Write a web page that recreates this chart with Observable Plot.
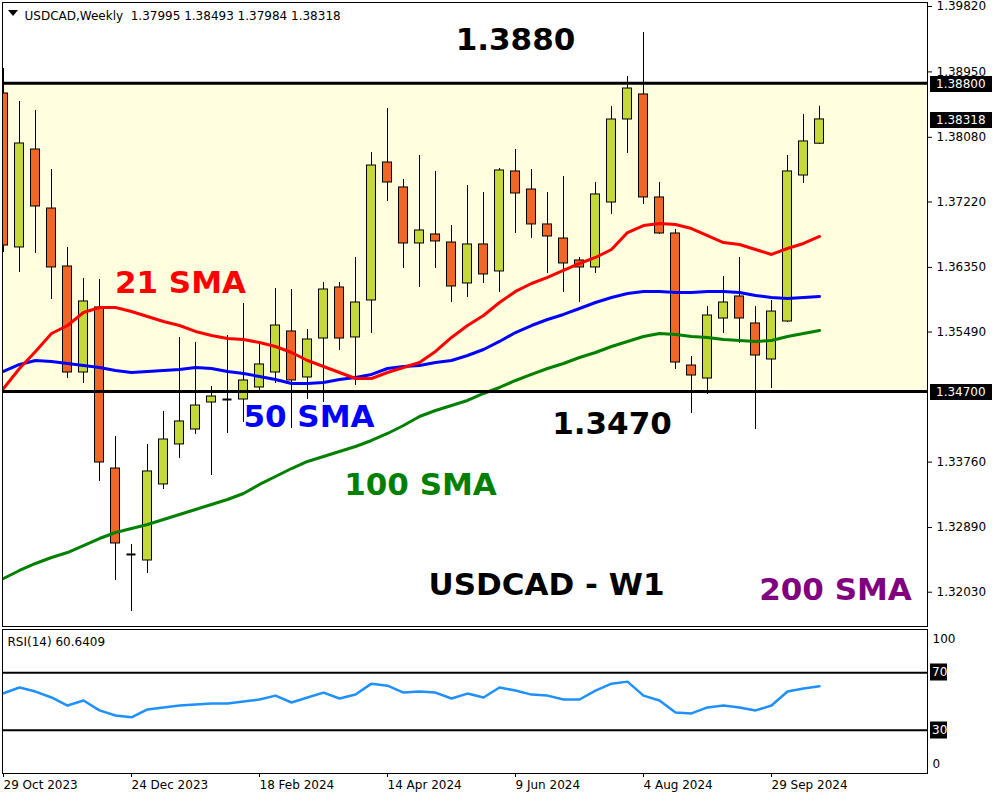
<!DOCTYPE html>
<html><head><meta charset="utf-8">
<script src="https://cdn.jsdelivr.net/npm/d3@7"></script>
<script src="https://cdn.jsdelivr.net/npm/@observablehq/plot@0.6"></script>
<style>
body{margin:0;background:#fff;}
#chart svg{display:block;}
</style></head><body><div id="chart"></div>
<script>
// ---- data ----
const dateLabels = ["29 Oct 2023","24 Dec 2023","18 Feb 2024","14 Apr 2024","9 Jun 2024","4 Aug 2024","29 Sep 2024"];
const dateTickIdx = [0,8,16,24,32,40,48];
const open = [1.38663,1.36615,1.37918,1.37133,1.36362,1.34952,1.35817,1.33675,1.32532,1.32452,
  1.33463,1.33995,1.34194,1.34553,1.34593,1.34593,1.34753,1.34952,1.35498,1.34886,
  1.35404,1.36083,1.35418,1.35910,1.37745,1.37413,1.36668,1.36788,1.36681,1.36136,
  1.36655,1.36296,1.37626,1.37386,1.36921,1.36734,1.36442,1.36349,1.37213,1.38317,
  1.38650,1.37280,1.36801,1.35045,1.34872,1.35670,1.35963,1.35604,1.35125,1.35630,
  1.37572,1.37995];
const high = [1.38995,1.38557,1.38437,1.37652,1.36615,1.36202,1.36189,1.34101,1.32665,1.33995,
  1.34434,1.35418,1.35351,1.34766,1.35444,1.35870,1.35338,1.36069,1.36056,1.35524,
  1.36149,1.36149,1.36482,1.37878,1.38463,1.37519,1.37838,1.37626,1.36907,1.37439,
  1.37346,1.37665,1.37918,1.37652,1.37346,1.37559,1.36482,1.37479,1.38490,1.38889,
  1.39474,1.37479,1.36854,1.35165,1.35830,1.36229,1.36482,1.35830,1.35910,1.37838,
  1.38384,1.38493];
const low = [1.36548,1.36282,1.36535,1.35923,1.34872,1.34806,1.33503,1.32186,1.31774,1.32279,
  1.33396,1.33808,1.34128,1.33582,1.34141,1.34287,1.34686,1.34806,1.34207,1.34593,
  1.34553,1.35245,1.34779,1.35471,1.37227,1.36335,1.36083,1.36335,1.35883,1.35950,
  1.36136,1.36016,1.36801,1.36734,1.36269,1.36016,1.35883,1.36269,1.37054,1.37865,
  1.37187,1.36788,1.34992,1.34407,1.34660,1.35471,1.35338,1.34194,1.34739,1.35617,
  1.37466,1.37984];
const close = [1.36641,1.37998,1.37160,1.36349,1.34952,1.35897,1.33755,1.32678,1.32532,1.33636,
  1.34061,1.34301,1.34513,1.34633,1.34593,1.34846,1.35059,1.35577,1.34846,1.35391,
  1.36056,1.35404,1.35883,1.37705,1.37479,1.36668,1.36841,1.36695,1.36096,1.36655,
  1.36256,1.37639,1.37333,1.36921,1.36761,1.36402,1.36349,1.37320,1.38317,1.38729,
  1.37280,1.36801,1.35085,1.34912,1.35710,1.35883,1.35670,1.35178,1.35763,1.37626,
  1.38025,1.38318];
const sma21 = [1.34739,1.35005,1.35232,1.35471,1.35577,1.35750,1.35817,1.35817,1.35763,1.35697,
  1.35630,1.35577,1.35498,1.35444,1.35404,1.35391,1.35351,1.35298,1.35218,1.35112,
  1.35032,1.34952,1.34872,1.34872,1.34952,1.35019,1.35085,1.35232,1.35418,1.35577,
  1.35710,1.35883,1.36030,1.36136,1.36216,1.36309,1.36402,1.36482,1.36588,1.36814,
  1.36907,1.36934,1.36921,1.36867,1.36774,1.36681,1.36655,1.36588,1.36522,1.36601,
  1.36668,1.36761];
const sma50 = [1.34966,1.35059,1.35112,1.35099,1.35072,1.35045,1.35019,1.34979,1.34952,1.34966,
  1.34979,1.34992,1.35019,1.35005,1.34966,1.34939,1.34899,1.34859,1.34806,1.34806,
  1.34819,1.34859,1.34886,1.34926,1.35005,1.35032,1.35045,1.35085,1.35112,1.35178,
  1.35258,1.35365,1.35484,1.35577,1.35657,1.35724,1.35803,1.35883,1.35950,1.36003,
  1.36030,1.36030,1.36016,1.36016,1.36030,1.36030,1.36016,1.35976,1.35950,1.35936,
  1.35950,1.35963];
const sma100 = [1.32212,1.32319,1.32412,1.32492,1.32558,1.32651,1.32744,1.32824,1.32877,1.32931,
  1.32997,1.33064,1.33130,1.33197,1.33263,1.33343,1.33463,1.33569,1.33675,1.33769,
  1.33835,1.33902,1.33968,1.34048,1.34141,1.34247,1.34367,1.34447,1.34513,1.34580,
  1.34673,1.34753,1.34846,1.34926,1.35005,1.35072,1.35152,1.35218,1.35298,1.35365,
  1.35431,1.35471,1.35458,1.35431,1.35418,1.35391,1.35378,1.35365,1.35378,1.35431,
  1.35471,1.35511];
const rsi14 = [55.7,59.7,56.9,52.8,47.2,50.7,43.8,40.3,39.0,44.5,
  45.9,47.2,47.9,48.6,48.6,50.0,51.4,54.1,49.3,52.8,
  56.2,52.1,54.8,62.4,61.0,56.2,56.9,56.2,52.1,55.5,
  52.8,59.7,57.6,54.8,54.1,51.4,51.4,57.6,62.4,63.8,
  54.1,50.7,42.4,41.7,45.9,47.2,45.9,43.8,47.2,56.9,
  59.0,60.64];
const priceTicks = [1.3982,1.3895,1.3808,1.3722,1.3635,1.3549,1.3376,1.3289,1.3203];
const levels = [1.3880, 1.3470];
const priceBoxes = [{value:1.3880,label:"1.38800"},{value:1.38318,label:"1.38318"},{value:1.3470,label:"1.34700"}];
const rsiLevels = [70, 30];
const rsiBoxes = [{value:70,label:"70"},{value:30,label:"30"}];
const annotations = [
  {text:"1.3880", i:32.0, y:1.39369, color:"#000000"},
  {text:"21 SMA", i:11.06, y:1.36137, color:"#ff0000"},
  {text:"50 SMA", i:19.09, y:1.34362, color:"#0000ff"},
  {text:"1.3470", i:38.03, y:1.34262, color:"#000000"},
  {text:"100 SMA", i:26.06, y:1.33451, color:"#008000"},
  {text:"USDCAD - W1", i:33.94, y:1.32121, color:"#000000"},
  {text:"200 SMA", i:52.0, y:1.32054, color:"#800080"}
];
const titleText = "USDCAD,Weekly\u00a0 1.37995 1.38493 1.37984 1.38318";
const rsiTitle = "RSI(14) 60.6409";

const BULL = "#c4d932", BEAR = "#f26522";
const candles = open.map((o, i) => ({i, open:o, high:high[i], low:low[i], close:close[i],
  sma21:sma21[i], sma50:sma50[i], sma100:sma100[i], rsi:rsi14[i]}));
const bodies = candles.filter(d => d.open !== d.close);
const dojis = candles.filter(d => d.open === d.close);

const xDomain = [-0.0625, 57.75];
const FONT = "'DejaVu Sans', sans-serif";

function boxMark(items, w, h, tx, shift) {
  return (index, scales, values, dims) => {
    const g = d3.create("svg:g");
    const x0 = dims.width - dims.marginRight + 3;
    for (const it of items) {
      const y = Math.round(scales.y(it.value)) + shift;
      g.append("rect").attr("x", x0).attr("y", y - h / 2).attr("width", w).attr("height", h).attr("fill", "#000");
      g.append("text").attr("x", x0 + tx).attr("y", y).attr("dy", "0.36em").attr("fill", "#fff")
        .attr("text-anchor", "start").attr("font-size", 12).attr("font-family", FONT).text(it.label);
    }
    return g.node();
  };
}
function triangleMark() {
  return (index, scales, values, dims) => {
    const x = dims.marginLeft, y = dims.marginTop;
    const p = d3.create("svg:path").attr("d", `M${x+6},${y+8}h10l-5,6z`).attr("fill", "#000");
    return p.node();
  };
}

const main = Plot.plot({
  width: 1000, height: 628,
  marginLeft: 2, marginRight: 73, marginTop: 2, marginBottom: 2,
  style: {fontFamily: FONT, fontSize: "12px", background: "#fff", color: "#000", overflow: "visible"},
  x: {domain: xDomain, axis: null},
  y: {domain: [1.31574, 1.39873], axis: null},
  marks: [
    Plot.rect([levels], {y1: d => d[1], y2: d => d[0], fill: "#ffffe0"}),
    Plot.ruleX(candles, {x: "i", y1: "low", y2: "high", stroke: "#000", strokeWidth: 1, clip: true}),
    Plot.rect(bodies, {x1: d => d.i - 0.5, x2: d => d.i + 0.5, y1: "open", y2: "close",
      insetLeft: 3.5, insetRight: 3.5, fill: d => d.close > d.open ? BULL : BEAR,
      stroke: "#000", strokeWidth: 1, clip: true}),
    Plot.ruleY(dojis, {y: "open", x1: d => d.i - 0.5, x2: d => d.i + 0.5, insetLeft: 3.5, insetRight: 3.5,
      stroke: "#000", strokeWidth: 2, clip: true}),
    Plot.line(candles, {x: "i", y: "sma100", stroke: "#008000", strokeWidth: 3}),
    Plot.line(candles, {x: "i", y: "sma50", stroke: "#0000ff", strokeWidth: 3}),
    Plot.line(candles, {x: "i", y: "sma21", stroke: "#ff0000", strokeWidth: 3}),
    Plot.ruleY(levels, {stroke: "#000", strokeWidth: 3}),
    Plot.axisY({anchor: "right", label: null, ticks: priceTicks, tickFormat: d => d.toFixed(5), tickSize: 4, tickPadding: 5, fontSize: 12}),
    Plot.text(annotations, {x: "i", y: "y", text: "text", fill: "color", fontSize: 31, fontWeight: "bold",
      fontFamily: FONT, textAnchor: "middle", lineAnchor: "middle"}),
    Plot.text([titleText], {frameAnchor: "top-left", dx: 22, dy: 8.5, fontSize: 12, fill: "#000"}),
    triangleMark(),
    boxMark(priceBoxes, 62, 16, 6, 1),
    Plot.frame({stroke: "#000"})
  ]
});

const rsiPlot = Plot.plot({
  width: 1000, height: 172,
  marginLeft: 2, marginRight: 73, marginTop: 1, marginBottom: 27,
  style: {fontFamily: FONT, fontSize: "12px", background: "#fff", color: "#000", overflow: "visible"},
  x: {domain: xDomain, axis: null},
  y: {domain: [0, 100], axis: null},
  marks: [
    Plot.ruleY(rsiLevels, {stroke: "#000", strokeWidth: 2}),
    Plot.line(candles, {x: "i", y: "rsi", stroke: "#1e90ff", strokeWidth: 2.5}),
    Plot.axisX({anchor: "bottom", label: null, ticks: dateTickIdx, tickFormat: d => dateLabels[dateTickIdx.indexOf(d)],
      tickSize: 4, tickPadding: 3, textAnchor: "start", fontSize: 12}),
    Plot.text([100], {y: d => d, text: d => String(d), frameAnchor: "right", textAnchor: "start", dx: 5, dy: 10, fontSize: 12}),
    Plot.text([0], {y: d => d, text: d => String(d), frameAnchor: "right", textAnchor: "start", dx: 5, dy: -9, fontSize: 12}),
    Plot.text([rsiTitle], {frameAnchor: "top-left", dx: 5, dy: 8, fontSize: 12, fill: "#000"}),
    boxMark(rsiBoxes, 17, 17, 2, 0),
    Plot.frame({stroke: "#000"})
  ]
});

const el = document.getElementById("chart");
el.appendChild(main);
el.appendChild(rsiPlot);
</script>
</body></html>
